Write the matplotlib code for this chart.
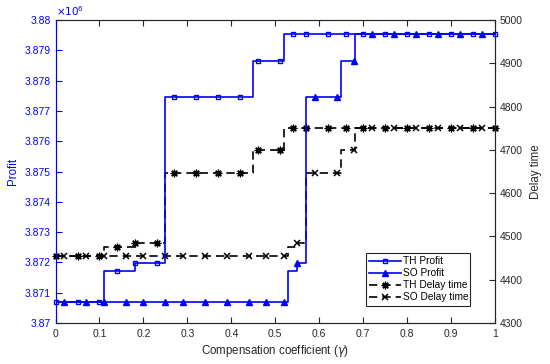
import numpy as np
import matplotlib.pyplot as plt
from matplotlib.lines import Line2D
from matplotlib.ticker import FuncFormatter, MultipleLocator

plt.rcParams['font.family'] = ['Liberation Sans', 'DejaVu Sans']

# step breakpoints (x where the level starts) and levels
th_x = [0, 0.11, 0.18, 0.25, 0.45, 0.52, 1.0]
so_x = [0, 0.53, 0.55, 0.57, 0.65, 0.682, 1.0]
th_profit = [3870680, 3871730, 3871970, 3877470, 3878640, 3879530, 3879530]
so_profit = [3870680, 3871730, 3871990, 3877470, 3878640, 3879530, 3879530]
th_delay = [4455, 4476, 4486, 4647, 4700, 4750, 4750]
so_delay = [4455, 4476, 4486, 4647, 4700, 4750, 4750]

# where the markers sit along gamma
th_marks = [0, 0.05, 0.10, 0.14, 0.18, 0.23, 0.27, 0.32, 0.37, 0.42, 0.46, 0.51,
            0.54, 0.57, 0.62, 0.66, 0.70, 0.75, 0.80, 0.85, 0.90, 0.95, 1.0]
so_marks = [0.02, 0.07, 0.11, 0.16, 0.20, 0.25, 0.29, 0.34, 0.39, 0.44, 0.48,
            0.52, 0.55, 0.59, 0.64, 0.68, 0.72, 0.77, 0.82, 0.87, 0.92, 0.97]


def level_at(xs, ys, pts):
    # value of a post-step function at the marker positions
    idx = np.searchsorted(xs, pts, side='right') - 1
    return np.asarray(ys)[np.clip(idx, 0, len(ys) - 1)]


blue = (0, 0, 1)
dark = '#262626'
dash = (0, (5, 3))
star = (8, 2, 0)   # matlab-like asterisk

fig = plt.figure(figsize=(5.5, 3.64), dpi=100)
ax = fig.add_axes([0.101, 0.1126, 0.799, 0.8324])
ax2 = ax.twinx()

# right axis: delay time (black dashed)
ax2.step(th_x, th_delay, where='post', color='k', ls=dash, lw=1.2)
ax2.plot(th_marks, level_at(th_x, th_delay, th_marks), ls='none', marker=star,
         color='k', ms=5.5, mew=0.9, clip_on=False)
ax2.step(so_x, so_delay, where='post', color='k', ls=dash, lw=1.2)
ax2.plot(so_marks, level_at(so_x, so_delay, so_marks), ls='none', marker='x',
         color='k', ms=4, mew=1.1, clip_on=False)

# left axis: profit (blue solid)
ax.step(th_x, th_profit, where='post', color=blue, lw=1.2)
ax.plot(th_marks, level_at(th_x, th_profit, th_marks), ls='none', marker='s',
        mfc='none', mec=blue, ms=3.5, mew=1.0, clip_on=False)
ax.step(so_x, so_profit, where='post', color=blue, lw=1.2)
ax.plot(so_marks, level_at(so_x, so_profit, so_marks), ls='none', marker='^',
        color=blue, ms=5, clip_on=False)

ax.set_zorder(ax2.get_zorder() + 1)
ax.patch.set_visible(False)

ax.set_xlim(0, 1)
ax.set_ylim(3870000, 3880000)
ax2.set_ylim(4300, 5000)
ax.xaxis.set_major_locator(MultipleLocator(0.1))
ax.yaxis.set_major_locator(MultipleLocator(1000))
ax2.yaxis.set_major_locator(MultipleLocator(100))
ax.xaxis.set_major_formatter(FuncFormatter(lambda v, p: '{:g}'.format(round(v, 2))))
ax.yaxis.set_major_formatter(FuncFormatter(lambda v, p: '{:g}'.format(round(v / 1e6, 4))))

ax.tick_params(axis='x', direction='in', top=True, colors=dark, labelsize=7.5, length=4, pad=4)
ax.tick_params(axis='y', direction='in', colors=blue, labelsize=7.5, length=4)
ax2.tick_params(axis='y', direction='in', colors=dark, labelsize=7.5, length=4)
for a in (ax, ax2):
    for s in a.spines.values():
        s.set_color(dark)
        s.set_linewidth(0.8)
ax.spines['left'].set_color(blue)
ax2.spines['left'].set_color(blue)

ax.text(0.0, 1.008, r'$\times10^{6}$', transform=ax.transAxes, color=blue,
        fontsize=7.5, ha='left', va='bottom')

ax.set_xlabel(r'Compensation coefficient ($\gamma$)', fontsize=8.3, color=dark, labelpad=3)
ax.set_ylabel('Profit', fontsize=8.3, color=blue, labelpad=4)
ax2.set_ylabel('Delay time', fontsize=8.3, color=dark, labelpad=5)

handles = [
    Line2D([], [], color=blue, lw=1.2, marker='s', mfc='none', mec=blue, ms=3.5),
    Line2D([], [], color=blue, lw=1.2, marker='^', ms=5),
    Line2D([], [], color='k', lw=1.2, ls=dash, marker=star, ms=5.5, mew=0.9),
    Line2D([], [], color='k', lw=1.2, ls=dash, marker='x', ms=4, mew=1.1),
]
leg = ax.legend(handles, ['TH Profit', 'SO Profit', 'TH Delay time', 'SO Delay time'],
                loc='lower left', bbox_to_anchor=(0.706, 0.057, 0.238, 0.181),
                mode='expand', fontsize=7.3, handlelength=3.1, handletextpad=0.25,
                borderaxespad=0, borderpad=0.35, labelspacing=0.2,
                fancybox=False, framealpha=1, edgecolor=dark)
leg.get_frame().set_linewidth(0.8)

fig.savefig('out.png', dpi=100)
